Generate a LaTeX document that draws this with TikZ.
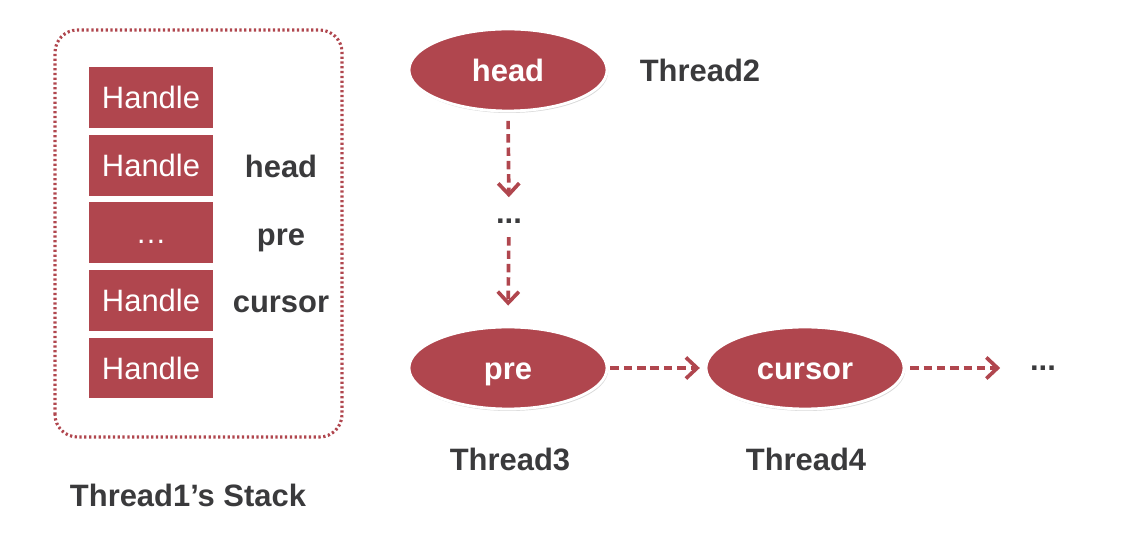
\documentclass[tikz,border=0pt]{standalone}
\usepackage{fontspec}
\setmainfont{Liberation Sans}
\usetikzlibrary{arrows.meta, shadows, shapes.geometric}
\definecolor{slidered}{RGB}{176,70,78}
\definecolor{slidegray}{RGB}{58,58,60}
\tikzset{
  handlebox/.style={fill=slidered, minimum width=3.1cm, minimum height=1.52cm, text=white,
    text height=15.8pt, text depth=0pt, font=\fontsize{22}{26}\selectfont},
  threadnode/.style={ellipse, fill=slidered, draw=white, line width=2pt, minimum width=4.95cm, minimum height=2.05cm,
    text=white, text height=15.8pt, text depth=0pt, font=\fontsize{22}{26}\selectfont\bfseries,
    drop shadow={opacity=0.3, shadow xshift=0.03cm, shadow yshift=-0.05cm}},
  darklabel/.style={text=slidegray, text height=15.8pt, text depth=0pt, font=\fontsize{22}{26}\selectfont\bfseries},
  linkarrow/.style={draw=slidered, line width=2.6pt, dash pattern=on 6pt off 3.5pt,
    -{Straight Barb[length=8pt, width=15pt, line width=2.6pt]}}
}
\begin{document}
\begin{tikzpicture}
\useasboundingbox (0,0) rectangle (28.15,13.4);
% Thread1's stack
\draw[draw=slidered, line width=2.2pt, dash pattern=on 1.6pt off 1.8pt, rounded corners=16pt] (1.375,2.475) rectangle (8.55,12.65);
\foreach \i/\txt in {0/Handle, 1/Handle, 2/\dots, 3/Handle, 4/Handle} {
  \node[handlebox] (h\i) at (3.775,10.96-1.69*\i) {\txt};
}
\node[darklabel] (shead) at (7.025,9.25) {head};
\node[darklabel] (spre) at (7.025,7.55) {pre};
\node[darklabel] (scursor) at (7.025,5.86) {cursor};
\node[darklabel] (stacklabel) at (4.7,1.025) {Thread1’s Stack};
% list nodes of the other threads
\node[threadnode] (head) at (12.7,11.65) {head};
\node[darklabel] (t2) at (17.5,11.65) {Thread2};
\node[darklabel] (dots1) at (12.725,8.1) {...};
\node[threadnode] (pre) at (12.7,4.2) {pre};
\node[threadnode] (cursor) at (20.125,4.2) {cursor};
\node[darklabel] (dots2) at (26.075,4.41) {...};
\node[darklabel] (t3) at (12.75,1.925) {Thread3};
\node[darklabel] (t4) at (20.15,1.925) {Thread4};
\draw[linkarrow, shorten <=0.21cm, shorten >=0.37cm] (head.south) -- (dots1.center);
\draw[linkarrow, shorten <=0.63cm, shorten >=0.5cm] (dots1.center) -- (pre.north);
\draw[linkarrow, shorten <=0.05cm, shorten >=0.12cm] (pre.east) -- (cursor.west);
\draw[linkarrow, shorten <=0.12cm, shorten >=1.07cm] (cursor.east) -- (cursor.east -| dots2.center);
\end{tikzpicture}
\end{document}
